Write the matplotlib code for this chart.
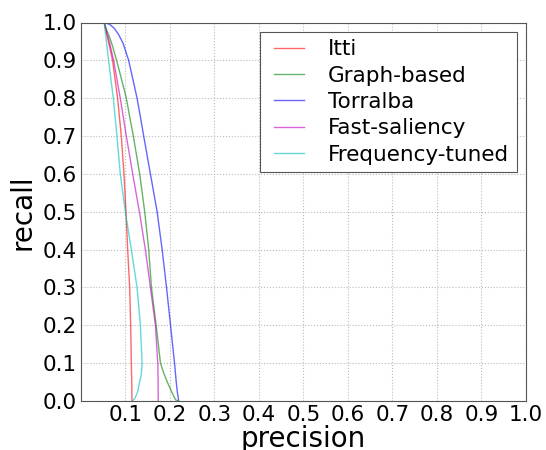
import numpy as np
import matplotlib
matplotlib.use("Agg")
import matplotlib.pyplot as plt

# precision / recall pairs
itti_p = [0.0526, 0.057, 0.062, 0.0714, 0.0827, 0.091, 0.097, 0.1015, 0.1053, 0.1098, 0.112, 0.1135, 0.1145, 0.115]
itti_r = [1.0, 0.975, 0.95, 0.9, 0.8, 0.7, 0.6, 0.5, 0.4, 0.3, 0.2, 0.1, 0.05, 0.0]

graph_p = [0.0526, 0.058, 0.065, 0.072, 0.0804, 0.0915, 0.1023, 0.110, 0.118, 0.1323, 0.1436,
           0.1526, 0.1587, 0.1693, 0.179, 0.186, 0.194, 0.2038, 0.213, 0.218]
graph_r = [1.0, 0.98, 0.96, 0.935, 0.9, 0.85, 0.8, 0.75, 0.7, 0.6, 0.5,
           0.4, 0.3, 0.2, 0.1, 0.075, 0.051, 0.025, 0.003, 0.0]

torr_p = [0.0526, 0.065, 0.075, 0.085, 0.095, 0.1075, 0.117, 0.1264, 0.134, 0.1413, 0.1564,
          0.1715, 0.1828, 0.1926, 0.2016, 0.2106, 0.2144, 0.2167, 0.22]
torr_r = [1.0, 0.995, 0.985, 0.968, 0.945, 0.9, 0.85, 0.8, 0.75, 0.7, 0.6,
          0.5, 0.4, 0.3, 0.2, 0.1, 0.051, 0.025, 0.0]

fast_p = [0.0526, 0.058, 0.064, 0.0737, 0.0887, 0.1023, 0.1166, 0.1316, 0.1451, 0.1564,
          0.1677, 0.173, 0.1737, 0.174]
fast_r = [1.0, 0.975, 0.95, 0.9, 0.8, 0.7, 0.6, 0.5, 0.4, 0.3,
          0.2, 0.1, 0.05, 0.0]

freq_p = [0.0526, 0.0624, 0.073, 0.0812, 0.0887, 0.100, 0.1135, 0.1264, 0.1339, 0.1377,
          0.136, 0.1323, 0.128, 0.122, 0.116]
freq_r = [1.0, 0.9, 0.8, 0.7, 0.6, 0.5, 0.4, 0.3, 0.2, 0.1,
          0.07, 0.051, 0.025, 0.008, 0.0]

names = ["Itti", "Graph-based", "Torralba", "Fast-saliency", "Frequency-tuned"]
colors = ["r", "g", "b", "m", "c"]
series = [(itti_p, itti_r), (graph_p, graph_r), (torr_p, torr_r),
          (fast_p, fast_r), (freq_p, freq_r)]

fig = plt.figure(figsize=(5.46, 4.5), dpi=100)
ax = fig.add_axes([0.148, 0.109, 0.815, 0.841])

for (p, r), name, c in zip(series, names, colors):
    ax.plot(p, r, color=c, alpha=0.6, linewidth=1, label=name)

ax.set_xlim(0, 1)
ax.set_ylim(0, 1)
ax.set_xticks(np.arange(1, 11) / 10)
ax.set_yticks(np.arange(0, 11) / 10)
ax.tick_params(labelsize=15.5, length=0, pad=3)
ax.grid(True, linestyle=':', color='#bbbbbb', linewidth=0.8)
for s in ax.spines.values():
    s.set_color('#555555')

ax.set_xlabel("precision", fontsize=20, labelpad=0)
ax.set_ylabel("recall", fontsize=20, labelpad=4)

leg = ax.legend(loc='upper right', fontsize=15.5, fancybox=False, numpoints=2,
                edgecolor='#555555', handlelength=2.0, handletextpad=0.8,
                borderaxespad=0.42, borderpad=0.35, labelspacing=0.3,
                framealpha=1)
leg.get_frame().set_linewidth(0.8)

plt.savefig("out.png", dpi=100)
